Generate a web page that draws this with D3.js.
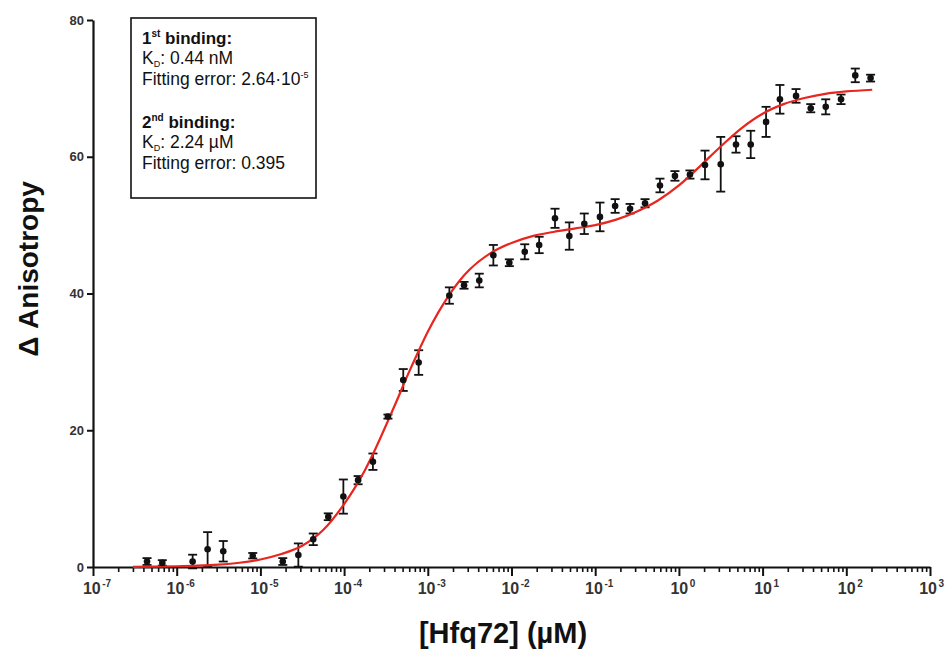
<!DOCTYPE html>
<html>
<head>
<meta charset="utf-8">
<script src="https://cdn.jsdelivr.net/npm/d3@7"></script>
<style>
  html, body { margin: 0; padding: 0; background: #fff; }
  svg { display: block; font-family: "Liberation Sans", Arial, Helvetica, sans-serif; }
</style>
</head>
<body>
<svg id="chart" width="946" height="650"></svg>
<script>
// ---- data (concentration in µM, Δ anisotropy, SD) ----
const conc = [4.42e-7, 6.73e-7, 1.55e-6, 2.34e-6, 3.6e-6, 8.1e-6, 1.85e-5, 2.84e-5, 4.28e-5, 6.47e-5,
  9.8e-5, 1.47e-4, 2.21e-4, 3.34e-4, 5.09e-4, 7.78e-4, 1.81e-3, 2.71e-3, 4.12e-3, 6.07e-3,
  9.42e-3, 0.0144, 0.0214, 0.0331, 0.0491, 0.0741, 0.114, 0.173, 0.261, 0.394,
  0.594, 0.897, 1.355, 2.05, 3.16, 4.81, 7.21, 11.0, 16.1, 25.1,
  37.6, 56.8, 86.5, 128, 195];
const aniso = [0.8, 0.6, 0.8, 2.6, 2.3, 1.65, 0.8, 1.75, 4.05, 7.35,
  10.3, 12.7, 15.4, 22.0, 27.35, 29.9, 39.7, 41.2, 41.9, 45.6,
  44.5, 46.1, 47.1, 51.0, 48.4, 50.2, 51.2, 52.8, 52.4, 53.2,
  55.8, 57.2, 57.4, 58.8, 58.9, 61.8, 61.8, 65.1, 68.4, 68.9,
  67.1, 67.3, 68.4, 71.9, 71.5];
const sd = [0.5, 0.4, 1.0, 2.5, 1.5, 0.4, 0.5, 1.7, 0.85, 0.5,
  2.5, 0.6, 1.2, 0.3, 1.6, 1.8, 1.2, 0.5, 1.0, 1.5,
  0.5, 1.1, 1.2, 1.4, 2.0, 1.5, 2.1, 1.0, 0.7, 0.6,
  1.0, 0.7, 0.6, 2.1, 4.0, 1.2, 2.0, 2.2, 2.1, 1.0,
  0.6, 1.1, 0.7, 1.0, 0.5];

// fitted curve (concentration µM, Δ anisotropy)
const fitConc = [3.0e-7, 5.62e-7, 1e-6, 1.78e-6, 3.16e-6, 5.62e-6, 1e-5, 1.78e-5, 3.16e-5, 5.62e-5,
  1e-4, 1.33e-4, 1.78e-4, 2.37e-4, 3.16e-4, 4.22e-4, 5.62e-4, 7.5e-4, 1e-3, 1.33e-3,
  1.78e-3, 2.37e-3, 3.16e-3, 5.62e-3, 0.01, 0.0178, 0.0316, 0.0562, 0.1, 0.178,
  0.316, 0.562, 1, 1.78, 3.16, 5.62, 10, 17.8, 31.6, 56.2, 100, 204];
const fitVal = [0.03, 0.06, 0.11, 0.2, 0.35, 0.62, 1.1, 1.9, 3.1, 5.4,
  9.2, 11.5, 14.2, 17.3, 20.7, 24.2, 27.8, 31.2, 34.4, 37.2,
  39.7, 41.8, 43.5, 45.9, 47.4, 48.4, 49.0, 49.5, 50.0, 50.8,
  52.0, 53.6, 55.8, 58.6, 61.5, 64.2, 66.3, 67.7, 68.6, 69.2, 69.55, 69.8];

const yTicks = [0, 20, 40, 60, 80];
const xTickExps = [-7, -6, -5, -4, -3, -2, -1, 0, 1, 2, 3];

const legend1 = { title: "binding:", ord: "1", sup: "st", kd: ": 0.44 nM", err: "Fitting error: 2.64·10", errSup: "-5" };
const legend2 = { title: "binding:", ord: "2", sup: "nd", kd: ": 2.24 µM", err: "Fitting error: 0.395", errSup: "" };

// ---- drawing ----
const svg = d3.select("#chart");
const x = d3.scaleLog().domain([1e-7, 1e3]).range([93, 930]);
const y = d3.scaleLinear().domain([0, 80]).range([567, 20]);

// minor ticks on x
const minor = [];
for (let e = -7; e < 3; e++) for (let m = 2; m <= 9; m++) minor.push(m * Math.pow(10, e));

const xMinor = svg.append("g").attr("transform", `translate(0,${y(0)})`)
  .call(d3.axisBottom(x).tickValues(minor).tickSize(5).tickSizeOuter(0).tickFormat(""));
xMinor.select(".domain").remove();
xMinor.selectAll("line").attr("stroke", "#111").attr("stroke-width", 1.6);

const xMajor = svg.append("g").attr("transform", `translate(0,${y(0)})`)
  .call(d3.axisBottom(x).tickValues(xTickExps.map(e => Math.pow(10, e))).tickSize(9).tickSizeOuter(0).tickFormat(""));
xMajor.select(".domain").attr("stroke", "#111").attr("stroke-width", 2.2);
xMajor.selectAll("line").attr("stroke", "#111").attr("stroke-width", 2);

// x tick labels with superscripts
const xl = svg.append("g");
xTickExps.forEach((e, i) => {
  const last = i === xTickExps.length - 1;
  const t = xl.append("text")
    .attr("x", last ? 944 : x(Math.pow(10, e)) + 4)
    .attr("y", 594)
    .attr("text-anchor", last ? "end" : "middle")
    .attr("font-size", 16).attr("font-weight", "bold").attr("fill", "#333");
  t.append("tspan").text("10");
  t.append("tspan").attr("font-size", 10).attr("dy", -7).attr("dx", 1.5).text(e < 0 ? "-" + Math.abs(e) : String(e));
});

const yAx = svg.append("g").attr("transform", `translate(${x(1e-7)},0)`)
  .call(d3.axisLeft(y).tickValues(yTicks).tickSize(6).tickSizeOuter(0).tickPadding(3));
yAx.select(".domain").attr("stroke", "#111").attr("stroke-width", 2.2);
yAx.selectAll("line").attr("stroke", "#111").attr("stroke-width", 2);
yAx.selectAll("text").attr("font-size", 13).attr("font-weight", "bold").attr("fill", "#333")
  .attr("font-family", "'Liberation Sans', Arial, sans-serif");

// axis titles
svg.append("text").attr("x", 503).attr("y", 643).attr("text-anchor", "middle")
  .attr("font-size", 29).attr("font-weight", "bold").attr("fill", "#111").text("[Hfq72] (µM)");
svg.append("text").attr("transform", "translate(38,269) rotate(-90)").attr("text-anchor", "middle")
  .attr("font-size", 28).attr("font-weight", "bold").attr("fill", "#111").text("Δ Anisotropy");

// error bars
const pts = conc.map((c, i) => ({ c, v: aniso[i], s: sd[i] }));
const eb = svg.append("g").attr("stroke", "#111").attr("stroke-width", 1.8);
pts.forEach(p => {
  const cx = x(p.c), y1 = y(p.v + p.s), y2 = y(p.v - p.s);
  eb.append("line").attr("x1", cx).attr("x2", cx).attr("y1", y1).attr("y2", y2);
  eb.append("line").attr("x1", cx - 4.5).attr("x2", cx + 4.5).attr("y1", y1).attr("y2", y1);
  eb.append("line").attr("x1", cx - 4.5).attr("x2", cx + 4.5).attr("y1", y2).attr("y2", y2);
});

// fit curve
const fit = fitConc.map((c, i) => [c, fitVal[i]]);
svg.append("path").datum(fit)
  .attr("fill", "none").attr("stroke", "#e8251f").attr("stroke-width", 2.2)
  .attr("d", d3.line().x(d => x(d[0])).y(d => y(d[1])).curve(d3.curveMonotoneX));

// points
svg.append("g").selectAll("circle").data(pts).join("circle")
  .attr("cx", d => x(d.c)).attr("cy", d => y(d.v)).attr("r", 3.3).attr("fill", "#111");

// legend box
const lg = svg.append("g");
lg.append("rect").attr("x", 131).attr("y", 18).attr("width", 185).attr("height", 180)
  .attr("fill", "#fff").attr("stroke", "#111").attr("stroke-width", 1.6);

function block(d, top) {
  const t1 = lg.append("text").attr("x", 142).attr("y", top).attr("font-size", 17).attr("font-weight", "bold").attr("fill", "#111");
  t1.append("tspan").text(d.ord);
  t1.append("tspan").attr("font-size", 10).attr("dy", -7).text(d.sup);
  t1.append("tspan").attr("dy", 7).text(" " + d.title);
  const t2 = lg.append("text").attr("x", 142).attr("y", top + 20).attr("font-size", 17.5).attr("fill", "#111");
  t2.append("tspan").text("K");
  t2.append("tspan").attr("font-size", 9).attr("dy", 3).text("D");
  t2.append("tspan").attr("dy", -3).text(d.kd);
  const t3 = lg.append("text").attr("x", 142).attr("y", top + 41).attr("font-size", 17.5).attr("fill", "#111");
  t3.append("tspan").text(d.err);
  if (d.errSup) t3.append("tspan").attr("font-size", 9).attr("dy", -7).text(d.errSup);
}
block(legend1, 44);
block(legend2, 128);
</script>
</body>
</html>
